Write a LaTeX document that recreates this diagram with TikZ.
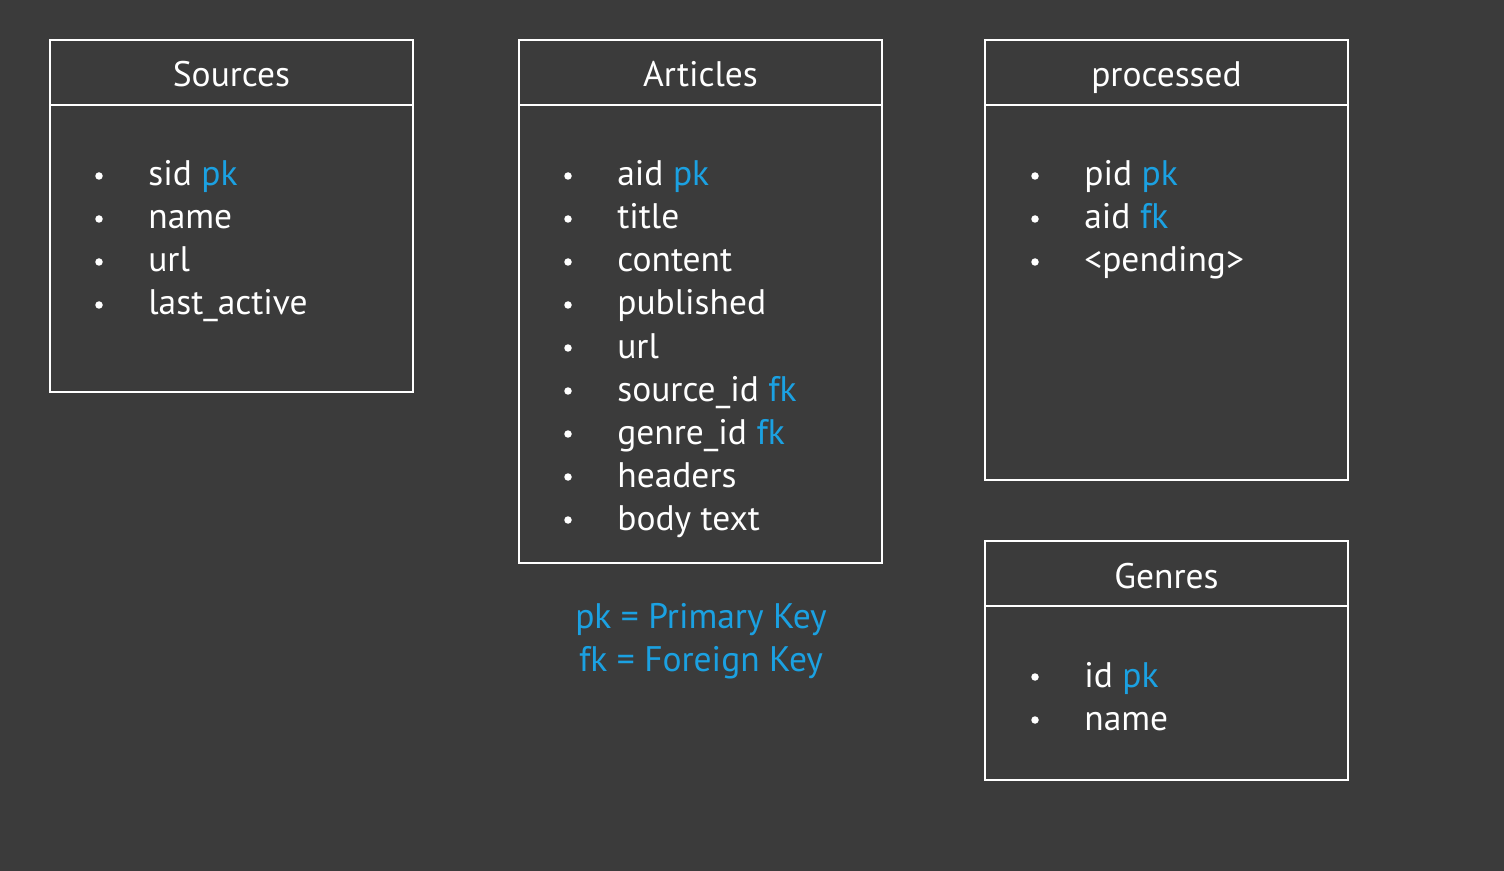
\documentclass[tikz,border=0pt]{standalone}
\usepackage{fontspec}
\setmainfont{PT Sans}
\definecolor{bg}{HTML}{3B3B3B}
\definecolor{keyblue}{HTML}{1BA1E2}
\newcommand{\key}[1]{\textcolor{keyblue}{#1}}
\tikzset{
  tbl/.style={draw=white, line width=1.1pt},
  ttl/.style={text=white, font=\fontsize{20.2}{24}\selectfont, inner sep=0pt, anchor=base},
  fld/.style={text=white, font=\fontsize{20.2}{24}\selectfont, inner sep=0pt, anchor=base west},
  bul/.style={circle, fill=white, inner sep=0pt, minimum size=0.15cm},
  legend/.style={text=keyblue, font=\fontsize{20.2}{24}\selectfont, inner sep=0pt, anchor=base}
}
\begin{document}
\begin{tikzpicture}[x=0.02cm, y=-0.02cm]
    \fill[bg] (0,0) rectangle (1504,871);

    % Sources
    \draw[tbl] (50,40) rectangle (413,392);
    \draw[tbl] (50,105) -- (413,105);
    \node[ttl] (sources) at (231.5,87) {Sources};
    \foreach \f [count=\i] in {sid \key{pk}, name, url, last\_active} {
        \node[bul] (sb\i) at (99,{176+43*(\i-1)}) {};
        \node[fld] (sf\i) at (148,{186+43*(\i-1)}) {\f};
    }

    % Articles
    \draw[tbl] (519,40) rectangle (882,563);
    \draw[tbl] (519,105) -- (882,105);
    \node[ttl] (articles) at (700.5,87) {Articles};
    \foreach \f [count=\i] in {aid \key{pk}, title, content, published, url,
        source\_id \key{fk}, genre\_id \key{fk}, headers, body text} {
        \node[bul] (ab\i) at (568,{176+43*(\i-1)}) {};
        \node[fld] (af\i) at (617,{186+43*(\i-1)}) {\f};
    }

    % processed
    \draw[tbl] (985,40) rectangle (1348,480);
    \draw[tbl] (985,105) -- (1348,105);
    \node[ttl] (processed) at (1166.5,87) {processed};
    \foreach \f [count=\i] in {pid \key{pk}, aid \key{fk}, <pending>} {
        \node[bul] (pb\i) at (1035,{176+43*(\i-1)}) {};
        \node[fld] (pf\i) at (1084,{186+43*(\i-1)}) {\f};
    }

    % Genres
    \draw[tbl] (985,541) rectangle (1348,780);
    \draw[tbl] (985,606) -- (1348,606);
    \node[ttl] (genres) at (1166.5,588) {Genres};
    \foreach \f [count=\i] in {id \key{pk}, name} {
        \node[bul] (gb\i) at (1035,{677+43*(\i-1)}) {};
        \node[fld] (gf\i) at (1084,{687+43*(\i-1)}) {\f};
    }

    % Legend
    \node[legend] (pklegend) at (701,628) {pk = Primary Key};
    \node[legend] (fklegend) at (701,671) {fk = Foreign Key};
\end{tikzpicture}
\end{document}
